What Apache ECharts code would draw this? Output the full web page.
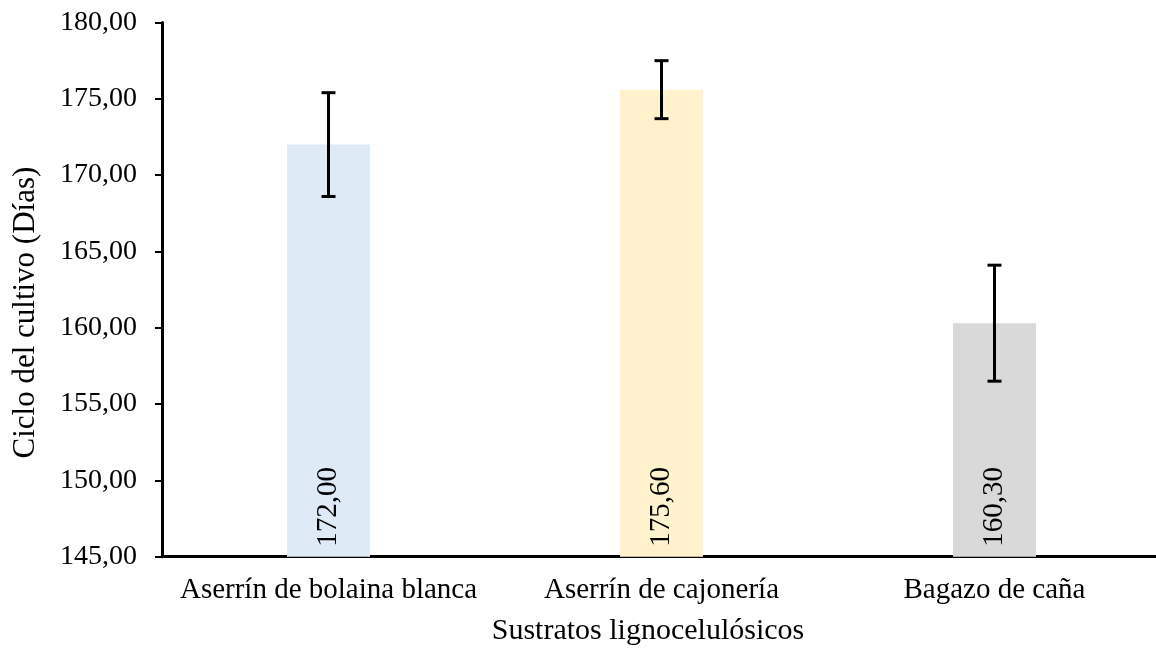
<!DOCTYPE html>
<html>
<head>
<meta charset="utf-8">
<script src="https://cdn.jsdelivr.net/npm/echarts@6/dist/echarts.min.js"></script>
<style>
html,body{margin:0;padding:0;background:#fff;}
#chart{width:1156px;height:648px;}
</style>
</head>
<body>
<div id="chart"></div>
<script>
var categories = ['Aserrín de bolaina blanca', 'Aserrín de cajonería', 'Bagazo de caña'];
var means = [172.00, 175.60, 160.30];
var errors = [3.4, 1.9, 3.8];
var barColors = ['#DEEAF6', '#FFF2CC', '#D9D9D9'];
var yTicks = { min: 145, max: 180, interval: 5 };

var FONT = '"Liberation Serif", "Times New Roman", serif';
function fmt(v) { return Number(v).toFixed(2).replace('.', ','); }

var chart = echarts.init(document.getElementById('chart'));
chart.setOption({
  animation: false,
  backgroundColor: '#fff',
  grid: { left: 162, top: 22.5, bottom: 91.3, width: 999, containLabel: false, outerBoundsMode: 'none' },
  xAxis: {
    type: 'category',
    data: categories,
    name: 'Sustratos lignocelulósicos',
    nameLocation: 'middle',
    nameGap: 59,
    nameTextStyle: { fontFamily: FONT, fontSize: 30, color: '#000', padding: [0, 27, 0, 0] },
    axisLine: { lineStyle: { color: '#000', width: 3 } },
    axisTick: { show: false },
    axisLabel: { fontFamily: FONT, fontSize: 29, color: '#000', margin: 19, interval: 0 }
  },
  yAxis: {
    type: 'value',
    min: yTicks.min, max: yTicks.max, interval: yTicks.interval,
    name: 'Ciclo del cultivo (Días)',
    nameLocation: 'middle',
    nameGap: 121,
    nameRotate: 90,
    nameTextStyle: { fontFamily: FONT, fontSize: 31, color: '#000', padding: [0, 46, 0, 0] },
    axisLine: { show: true, lineStyle: { color: '#000', width: 3 } },
    axisTick: { show: true, length: 7, lineStyle: { color: '#000', width: 2 } },
    splitLine: { show: false },
    axisLabel: { fontFamily: FONT, fontSize: 28, color: '#000', margin: 25, formatter: fmt }
  },
  series: [
    {
      type: 'bar',
      barWidth: 83,
      data: means.map(function (v, i) { return { value: v, itemStyle: { color: barColors[i] } }; }),
      label: {
        show: true,
        position: 'insideBottom',
        rotate: 90,
        align: 'left',
        verticalAlign: 'middle',
        distance: 10,
        fontFamily: FONT,
        fontSize: 29,
        color: '#000',
        formatter: function (p) { return fmt(p.value); }
      },
      z: 2
    },
    {
      type: 'custom',
      data: means.map(function (v, i) { return [i, v - errors[i], v + errors[i]]; }),
      renderItem: function (params, api) {
        var x = api.value(0);
        var lo = api.coord([x, api.value(1)]);
        var hi = api.coord([x, api.value(2)]);
        var cap = 7;
        var style = { stroke: '#000', lineWidth: 3 };
        return {
          type: 'group',
          children: [
            { type: 'line', shape: { x1: lo[0], y1: lo[1], x2: hi[0], y2: hi[1] }, style: style },
            { type: 'line', shape: { x1: hi[0] - cap, y1: hi[1], x2: hi[0] + cap, y2: hi[1] }, style: style },
            { type: 'line', shape: { x1: lo[0] - cap, y1: lo[1], x2: lo[0] + cap, y2: lo[1] }, style: style }
          ]
        };
      },
      z: 3
    }
  ]
});
</script>
</body>
</html>
